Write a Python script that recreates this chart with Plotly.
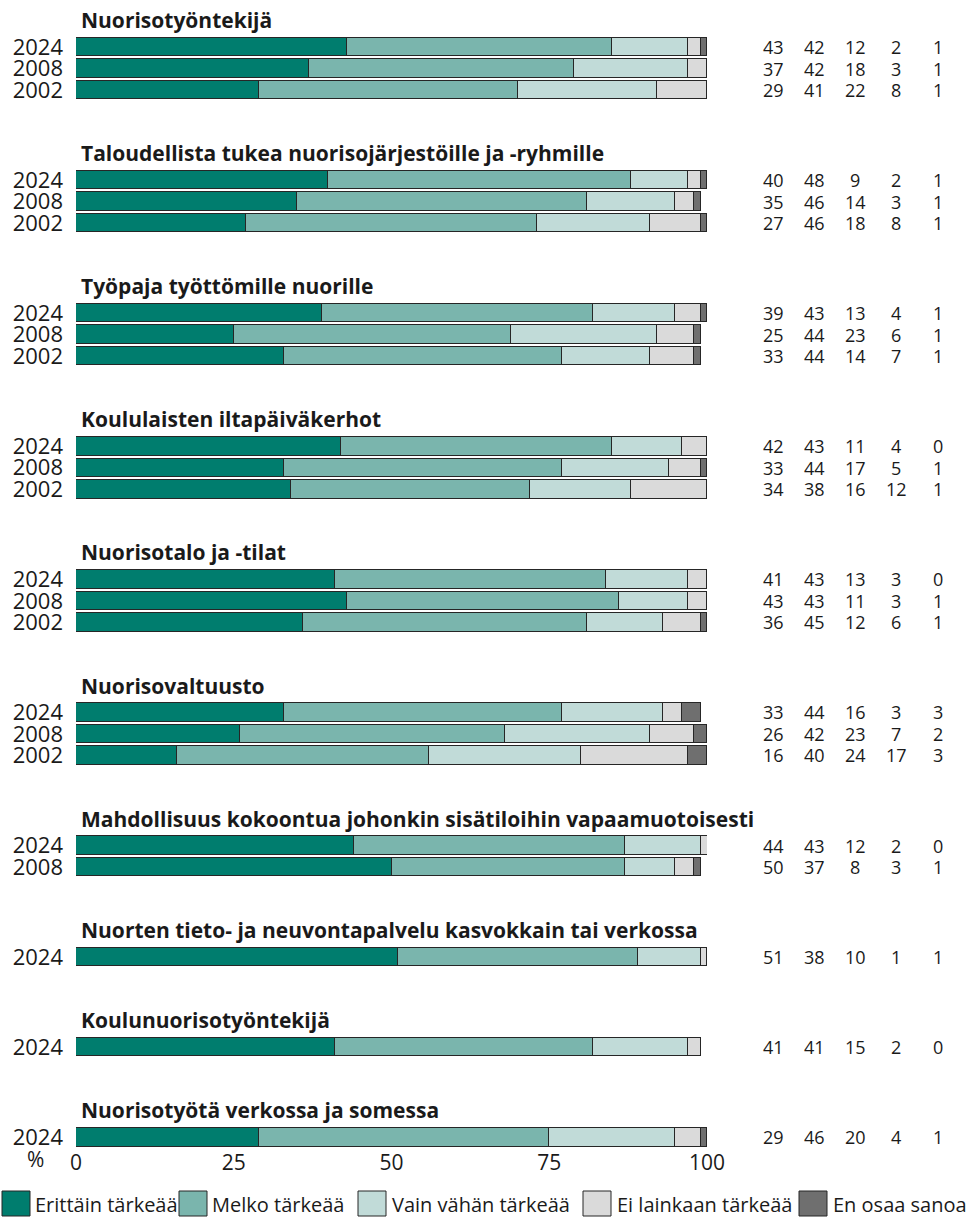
import plotly.graph_objects as go

# Survey items (group titles) and the survey years shown for each item
groups = [
    "Nuorisotyöntekijä",
    "Taloudellista tukea nuorisojärjestöille ja -ryhmille",
    "Työpaja työttömille nuorille",
    "Koululaisten iltapäiväkerhot",
    "Nuorisotalo ja -tilat",
    "Nuorisovaltuusto",
    "Mahdollisuus kokoontua johonkin sisätiloihin vapaamuotoisesti",
    "Nuorten tieto- ja neuvontapalvelu kasvokkain tai verkossa",
    "Koulunuorisotyöntekijä",
    "Nuorisotyötä verkossa ja somessa",
]
years = [
    ["2024", "2008", "2002"],
    ["2024", "2008", "2002"],
    ["2024", "2008", "2002"],
    ["2024", "2008", "2002"],
    ["2024", "2008", "2002"],
    ["2024", "2008", "2002"],
    ["2024", "2008"],
    ["2024"],
    ["2024"],
    ["2024"],
]

# Answer shares (%) per group, one value per year row
erittain = [[43, 37, 29], [40, 35, 27], [39, 25, 33], [42, 33, 34], [41, 43, 36],
            [33, 26, 16], [44, 50], [51], [41], [29]]
melko = [[42, 42, 41], [48, 46, 46], [43, 44, 44], [43, 44, 38], [43, 43, 45],
         [44, 42, 40], [43, 37], [38], [41], [46]]
vain_vahan = [[12, 18, 22], [9, 14, 18], [13, 23, 14], [11, 17, 16], [13, 11, 12],
              [16, 23, 24], [12, 8], [10], [15], [20]]
ei_lainkaan = [[2, 3, 8], [2, 3, 8], [4, 6, 7], [4, 5, 12], [3, 3, 6],
               [3, 7, 17], [2, 3], [1], [2], [4]]
en_osaa = [[1, 1, 1], [1, 1, 1], [1, 1, 1], [0, 1, 1], [0, 1, 1],
           [3, 2, 3], [0, 1], [1], [0], [1]]

series_names = ["Erittäin tärkeää", "Melko tärkeää", "Vain vähän tärkeää",
                "Ei lainkaan tärkeää", "En osaa sanoa"]
series_values = [erittain, melko, vain_vahan, ei_lainkaan, en_osaa]
series_colors = ["#007d6e", "#7ab5ad", "#c1dbd8", "#dadada", "#6f6f6f"]

xticks = [0, 25, 50, 75, 100]

# ---- layout geometry -------------------------------------------------------
W, H = 976, 1225
M_L, M_R, M_T, M_B = 76, 0, 4, 77
PLOT_W = W - M_L - M_R
PLOT_H = H - M_T - M_B
ROW_PX = 21.5       # vertical pitch of one year row
FIRST_ROW_PX = 47   # centre of the first bar
GAP = 4.19          # distance (in rows) from a group's last row to next group's first row
BAR_W = 0.86

def px_x(px):
    return (px - M_L) / PLOT_W

def px_y(py):
    return (H - M_B - py) / PLOT_H

# row positions
row_pos, row_year, row_group, row_idx = [], [], [], []
group_start = []
start = 0.0
for gi, yrs in enumerate(years):
    group_start.append(start)
    for j, yr in enumerate(yrs):
        row_pos.append(start + j)
        row_year.append(yr)
        row_group.append(gi)
        row_idx.append(j)
    start = start + (len(yrs) - 1) + GAP

y_top = -(FIRST_ROW_PX - M_T) / ROW_PX
y_bottom = y_top + PLOT_H / ROW_PX

fig = go.Figure()
for name, vals, col in zip(series_names, series_values, series_colors):
    xs = [vals[g][j] for g, j in zip(row_group, row_idx)]
    fig.add_trace(go.Bar(
        x=xs, y=row_pos, orientation="h", name=name, width=BAR_W,
        marker=dict(color=col, line=dict(color="#262626", width=1)),
        showlegend=False, hoverinfo="x+name",
    ))

annotations = []
# group titles
for gi, title in enumerate(groups):
    annotations.append(dict(
        x=px_x(79), xref="paper", y=group_start[gi] - 1.25, yref="y",
        text="<b>" + title + "</b>", showarrow=False, xanchor="left", yanchor="middle",
        font=dict(size=21, color="#1a1a1a", family="Open Sans"),
    ))

# value columns on the right
col_px = [773, 814, 855, 896, 938]
for vals, cx in zip(series_values, col_px):
    for p, g, j in zip(row_pos, row_group, row_idx):
        annotations.append(dict(
            x=px_x(cx), xref="paper", y=p, yref="y", text=str(vals[g][j]),
            showarrow=False, xanchor="center", yanchor="middle",
            font=dict(size=18, color="#1a1a1a", family="Open Sans"),
        ))

# percent sign next to the x axis labels
annotations.append(dict(
    x=px_x(35), xref="paper", y=px_y(1159), yref="paper", text="%",
    showarrow=False, xanchor="center", yanchor="middle",
    font=dict(size=21, color="#1a1a1a", family="Open Sans"),
))

# legend drawn as swatches + labels along the bottom
shapes = []
legend_items = [(2, 33), (179, 210), (358, 390), (583, 615), (799, 831)]
for (bx, tx), name, col in zip(legend_items, series_names, series_colors):
    shapes.append(dict(
        type="rect", xref="paper", yref="paper",
        x0=px_x(bx), x1=px_x(bx + 28), y0=px_y(1216), y1=px_y(1191),
        fillcolor=col, line=dict(color="#262626", width=1),
    ))
    annotations.append(dict(
        x=px_x(tx), xref="paper", y=px_y(1204), yref="paper", text=name,
        showarrow=False, xanchor="left", yanchor="middle",
        font=dict(size=20, color="#1a1a1a", family="Open Sans"),
    ))

fig.update_layout(
    width=W, height=H, autosize=False, barmode="stack",
    margin=dict(l=M_L, r=M_R, t=M_T, b=M_B, pad=0, autoexpand=False),
    plot_bgcolor="white", paper_bgcolor="white",
    font=dict(family="Open Sans", color="#1a1a1a"),
    annotations=annotations, shapes=shapes,
    xaxis=dict(
        range=[0, 100], domain=[0, px_x(707)], tickvals=xticks,
        ticktext=[str(t) for t in xticks], showgrid=False, zeroline=False,
        showline=False, ticks="", tickfont=dict(size=21, color="#1a1a1a"),
        fixedrange=True, automargin=False,
    ),
    yaxis=dict(
        range=[y_bottom, y_top], tickvals=row_pos, ticktext=row_year,
        showgrid=False, zeroline=False, showline=False, ticks="",
        ticklabelstandoff=12, tickfont=dict(size=22, color="#1a1a1a"),
        fixedrange=True, automargin=False,
    ),
    bargap=0,
)

fig.write_html("out.html", config={"responsive": False})
